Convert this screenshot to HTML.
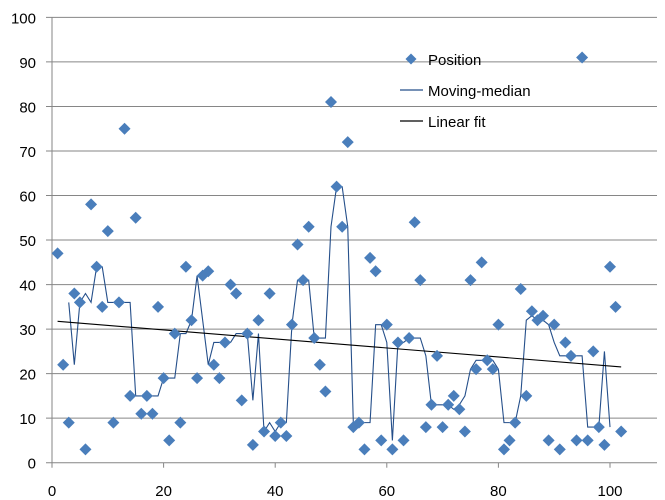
<!DOCTYPE html>
<html><head><meta charset="utf-8"><style>
body{margin:0;background:#fff}
svg{display:block;font-family:"Liberation Sans",sans-serif}
</style></head><body>
<svg id="chart" width="665" height="500">
<g id="grid"></g>
<g id="axes"></g>
<g id="series"></g>
<g id="legend">
  <path d="M411,53.5 L416.5,59 L411,64.5 L405.5,59 Z" fill="#4a7ebb"/>
  <text x="428" y="65" font-size="15">Position</text>
  <line x1="400" y1="90" x2="423" y2="90" stroke="#254f8a" stroke-width="1.2"/>
  <text x="428" y="96" font-size="15">Moving-median</text>
  <line x1="400" y1="121" x2="423" y2="121" stroke="#000" stroke-width="1.2"/>
  <text x="428" y="127" font-size="15">Linear fit</text>
</g>
</svg>
<script>
const positions = [47,22,9,38,36,3,58,44,35,52,9,36,75,15,55,11,15,11,35,19,5,29,9,44,32,19,42,43,22,19,27,40,38,14,29,4,32,7,38,6,9,6,31,49,41,53,28,22,16,81,62,53,72,8,9,3,46,43,5,31,3,27,5,28,54,41,8,13,24,8,13,15,12,7,41,21,45,23,21,31,3,5,9,39,15,34,32,33,5,31,3,27,24,5,91,5,25,8,4,44,35,7];
const xTicks = [0,20,40,60,80,100];
const yTicks = [0,10,20,30,40,50,60,70,80,90,100];
const NS="http://www.w3.org/2000/svg";
const X0=52, XS=5.58, Y0=462.7, YS=4.453, RIGHT=657;
const xs=v=>X0+v*XS, ys=v=>Y0-v*YS;
function mk(tag,attrs,parent){const e=document.createElementNS(NS,tag);for(const k in attrs)e.setAttribute(k,attrs[k]);parent.appendChild(e);return e;}
const grid=document.getElementById('grid'), axes=document.getElementById('axes'), series=document.getElementById('series');
yTicks.forEach(t=>{
  const y=ys(t);
  const l=mk('line',{x1:46,x2:RIGHT,y1:y,y2:y,stroke:'#868686','stroke-width':1},grid);
  
  
  const tx=mk('text',{x:36,y:y+6,'text-anchor':'end','font-size':15,fill:'#000'},axes);
  tx.textContent=t;
  
  
});
const ax=mk('line',{x1:X0,x2:X0,y1:ys(100),y2:Y0,stroke:'#868686','stroke-width':1},axes);


xTicks.forEach(t=>{
  const x=xs(t);
  const l=mk('line',{x1:x,x2:x,y1:Y0,y2:Y0+5,stroke:'#868686','stroke-width':1},axes);
  
  
  const tx=mk('text',{x:x,y:496,'text-anchor':'middle','font-size':15,fill:'#000'},axes);
  tx.textContent=t;
  
  
});
// moving median (window 5)
const med=[];
for(let i=2;i<positions.length-2;i++){const w=positions.slice(i-2,i+3).sort((a,b)=>a-b);med.push([i+1,w[2]]);}
const mp=mk('polyline',{points:med.map(p=>xs(p[0])+','+ys(p[1])).join(' '),fill:'none',stroke:'#254f8a','stroke-width':1.1},series);


// linear fit
const n=positions.length;let sx=0,sy=0,sxx=0,sxy=0;
positions.forEach((v,i)=>{const x=i+1;sx+=x;sy+=v;sxx+=x*x;sxy+=x*v;});
const b=(n*sxy-sx*sy)/(n*sxx-sx*sx), a=(sy-b*sx)/n;
const fl=mk('line',{x1:xs(1),y1:ys(a+b),x2:xs(n),y2:ys(a+b*n),stroke:'#000','stroke-width':1.1},series);


positions.forEach((v,i)=>{
  const x=xs(i+1),y=ys(v);
  const d=mk('path',{d:`M${x},${y-6} L${x+6},${y} L${x},${y+6} L${x-6},${y} Z`,fill:'#4a7ebb'},series);
  
  
});
</script>
</body></html>
